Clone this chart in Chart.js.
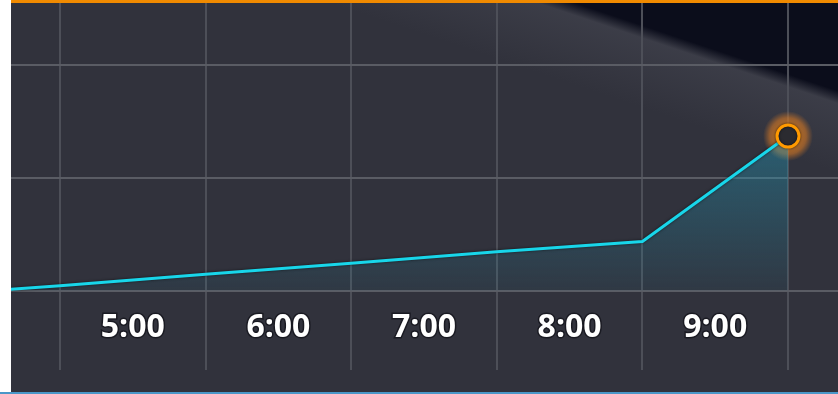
<!DOCTYPE html>
<html>
<head>
<meta charset="utf-8">
<script src="https://cdn.jsdelivr.net/npm/chart.js@4.4.0/dist/chart.umd.min.js"></script>
<style>
  html, body { margin: 0; padding: 0; background: #ffffff; }
  body { width: 838px; height: 394px; position: relative; overflow: hidden; }
  #panel {
    position: absolute; left: 11px; top: 0; width: 827px; height: 392px;
    background-color: #31323c;
    background-image: linear-gradient(18.5deg,
      rgba(80,82,94,0) 0px, rgba(80,82,94,0) 470px,
      rgba(84,86,98,0.3) 536px, #0b0d1b 548px, #0b0d1b 100%);
  }
  #topline { position: absolute; left: 11px; top: 0; width: 827px; height: 3px; background: #f08a00; }
  #bottomline { position: absolute; left: 0; top: 392px; width: 838px; height: 2px; background: #4a97c8; }
  canvas { position: absolute; left: 0; top: 0; }
</style>
</head>
<body>
<div id="panel"><canvas id="grafico" width="827" height="392"></canvas></div>
<div id="topline"></div>
<div id="bottomline"></div>
<script>
// horas mostradas en el eje (las lineas verticales caen entre ellas)
const horas = [5, 6, 7, 8, 9];
const etiquetas = ['5:00', '6:00', '7:00', '8:00', '9:00'];
const lineasY = [0, 1, 2];

// serie: hora -> valor
const tiempo = [4.16, 4.5, 5.5, 6.5, 7.5, 8.5, 9.5];
const valores = [0.011, 0.042, 0.143, 0.241, 0.343, 0.434, 1.367];

const ultimo = valores.length - 1;

const puntos = tiempo.map((t, i) => ({ x: t, y: valores[i] }));

function degradado(context) {
  const chart = context.chart;
  const area = chart.chartArea;
  if (!area) return 'rgba(35,150,175,0.3)';
  const y = chart.scales.y;
  const g = chart.ctx.createLinearGradient(0, y.getPixelForValue(valores[ultimo]), 0, y.getPixelForValue(0));
  g.addColorStop(0, 'rgba(35,150,180,0.45)');
  g.addColorStop(1, 'rgba(35,150,180,0.07)');
  return g;
}

function brillo(context) {
  const chart = context.chart;
  if (!chart.chartArea) return 'rgba(230,130,30,0.45)';
  const px = chart.scales.x.getPixelForValue(tiempo[ultimo]);
  const py = chart.scales.y.getPixelForValue(valores[ultimo]);
  const g = chart.ctx.createRadialGradient(px, py, 8, px, py, 25);
  g.addColorStop(0, 'rgba(235,135,30,0.8)');
  g.addColorStop(0.6, 'rgba(225,125,35,0.55)');
  g.addColorStop(1, 'rgba(210,120,40,0)');
  return g;
}

const sombraLinea = {
  id: 'sombraLinea',
  beforeDatasetDraw(chart, args) {
    if (args.index !== 0) return;
    chart.ctx.save();
    chart.ctx.shadowColor = 'rgba(0,0,0,0.6)';
    chart.ctx.shadowBlur = 3;
  },
  afterDatasetDraw(chart, args) {
    if (args.index !== 0) return;
    chart.ctx.restore();
  }
};

new Chart(document.getElementById('grafico').getContext('2d'), {
  type: 'line',
  data: {
    datasets: [
      {
        data: puntos,
        borderColor: '#18d6ea',
        borderWidth: 3,
        backgroundColor: degradado,
        fill: { value: 0 },
        tension: 0,
        pointRadius: puntos.map((p, i) => i === ultimo ? 11 : 0),
        pointBackgroundColor: '#2b2b30',
        pointBorderColor: '#ff9a00',
        pointBorderWidth: 3,
        order: 1
      },
      {
        data: [puntos[ultimo]],
        showLine: false,
        pointRadius: 25,
        pointBorderWidth: 0,
        pointBackgroundColor: brillo,
        order: 2
      }
    ]
  },
  options: {
    responsive: false,
    animation: false,
    events: [],
    layout: { padding: 0, autoPadding: false },
    plugins: { legend: { display: false }, tooltip: { enabled: false } },
    scales: {
      x: {
        type: 'linear',
        min: 4.1635,
        max: 9.8434,
        afterBuildTicks: s => { s.ticks = horas.map(h => ({ value: h })); },
        afterFit: s => { s.height = 22; },
        border: { display: false },
        grid: { offset: true, color: '#4d4f58', lineWidth: 2, drawTicks: false },
        ticks: {
          callback: (v, i) => etiquetas[i],
          color: '#ffffff',
          font: { family: 'Open Sans', size: 32, weight: 'bold', lineHeight: 1.2 },
          mirror: true,
          padding: 23,
          maxRotation: 0,
          autoSkip: false,
          textStrokeColor: 'rgba(20,20,28,0.8)',
          textStrokeWidth: 3
        }
      },
      y: {
        type: 'linear',
        min: -0.7035,
        max: 2.571,
        afterBuildTicks: s => { s.ticks = lineasY.map(v => ({ value: v })); },
        afterFit: s => { s.width = 0; },
        border: { display: false },
        grid: { color: '#5a5c64', lineWidth: 2, drawTicks: false },
        ticks: { display: false }
      }
    }
  },
  plugins: [sombraLinea]
});
</script>
</body>
</html>
